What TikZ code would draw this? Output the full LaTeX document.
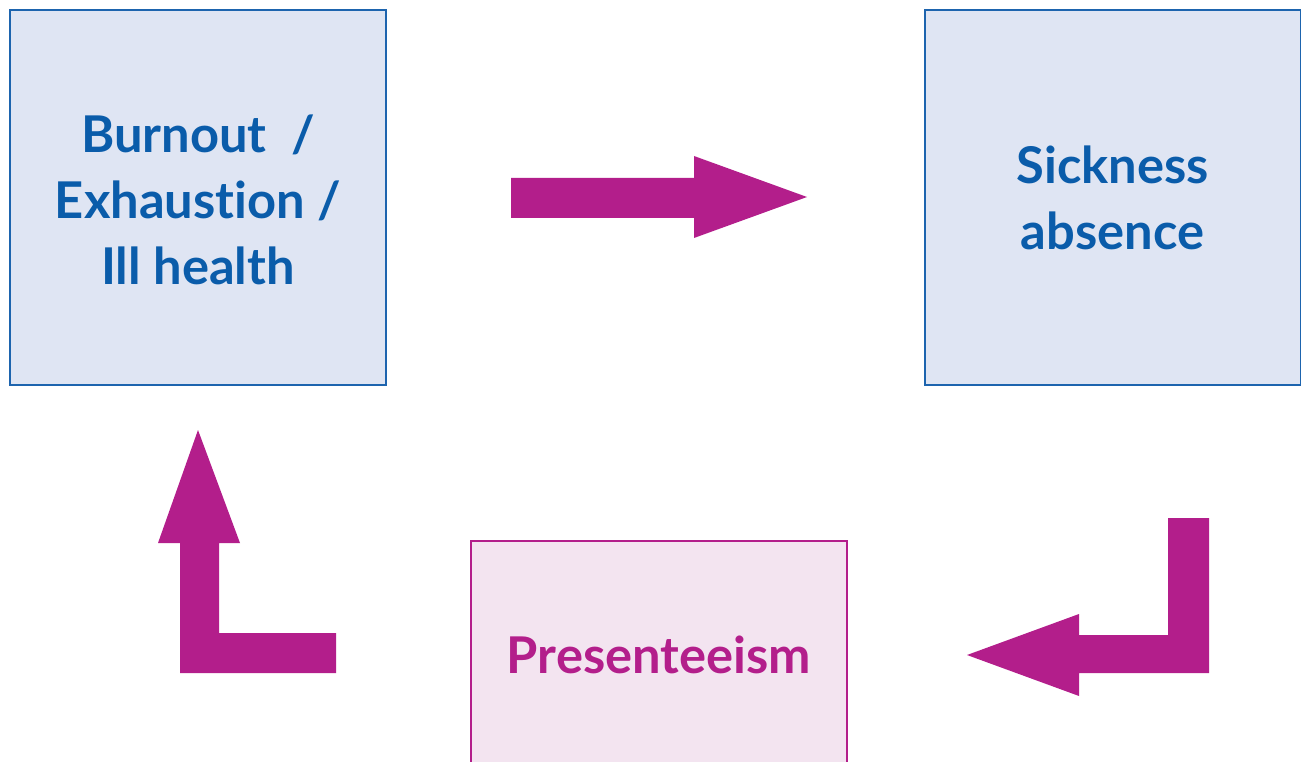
\documentclass[tikz,border=0pt]{standalone}
\usepackage{fontspec}
\setmainfont{Lato}[Ligatures={NoCommon}]
\usetikzlibrary{positioning}
\definecolor{boxblue}{HTML}{1D64AE}
\definecolor{textblue}{HTML}{0A5CAA}
\definecolor{fillblue}{HTML}{DFE5F3}
\definecolor{arrowpink}{HTML}{B31E8B}
\definecolor{fillpink}{HTML}{F3E4F0}
\tikzset{
  bluebox/.style={draw=boxblue, fill=fillblue, line width=1.5pt, minimum width=282pt, minimum height=281pt, text=textblue, align=center, font=\fontsize{38}{49.5}\selectfont\bfseries},
  pinkbox/.style={draw=arrowpink, fill=fillpink, line width=1.5pt, minimum width=282pt, minimum height=171pt, text=arrowpink, align=center, font=\fontsize{38}{49.5}\selectfont\bfseries},
  blockarrow/.style={fill=arrowpink, draw=none}
}

\begin{document}
\begin{tikzpicture}[x=0.75pt,y=-0.75pt]
  \useasboundingbox (0,0) rectangle (1301,762);
  \clip (0,0) rectangle (1301,762);
  \node[bluebox] (burnout) at (198,197.5) {\rule{0pt}{32pt}Burnout~~/\\Exhaustion /\\Ill health};
  \node[bluebox] (sickness) at (1112.5,197.5) {Sickness\\absence};
  \node[pinkbox] (presenteeism) at (659,655) {Presenteeism};
  % burnout to sickness
  \fill[blockarrow] (511,178) -- (694,178) -- (694,156) -- (807,197) -- (694,238) -- (694,218) -- (511,218) -- cycle;
  % sickness to presenteeism
  \fill[blockarrow] (1168,518) -- (1209,518) -- (1209,673) -- (1079,673) -- (1079,696) -- (967,655) -- (1079,614) -- (1079,635) -- (1168,635) -- cycle;
  % presenteeism to burnout
  \fill[blockarrow] (336,633) -- (336,673) -- (180,673) -- (180,543) -- (158,543) -- (198,430) -- (240,543) -- (219,543) -- (219,633) -- cycle;
\end{tikzpicture}
\end{document}
